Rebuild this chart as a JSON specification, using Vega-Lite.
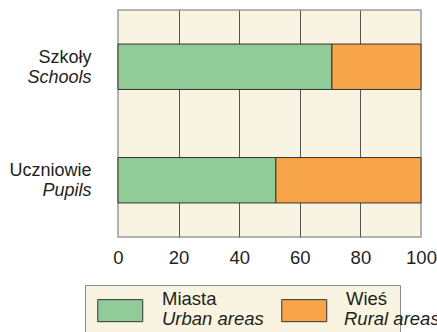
{
  "$schema": "https://vega.github.io/schema/vega-lite/v6.json",
  "autosize": {"type": "none"},
  "width": 303,
  "height": 227,
  "padding": {"left": 118, "top": 10, "right": 16, "bottom": 95},
  "background": "#ffffff",
  "config": {
    "font": "Liberation Sans",
    "view": {"fill": "#F8F4E1", "stroke": "#9a9a9a", "strokeWidth": 1.5},
    "axis": {"labelColor": "#231F20", "labelFont": "Liberation Sans"},
    "legend": {"labelColor": "#231F20", "labelFont": "Liberation Sans"}
  },
  "data": {
    "values": [
      {"cat": "Szkoły", "area": "Miasta", "area_en": "Urban areas", "value": 70.6},
      {"cat": "Szkoły", "area": "Wieś", "area_en": "Rural areas", "value": 29.4},
      {"cat": "Uczniowie", "area": "Miasta", "area_en": "Urban areas", "value": 52.1},
      {"cat": "Uczniowie", "area": "Wieś", "area_en": "Rural areas", "value": 47.9}
    ]
  },
  "resolve": {"axis": {"y": "independent"}},
  "layer": [
    {
      "mark": {"type": "bar", "strokeWidth": 1},
      "encoding": {
        "y": {
          "field": "cat",
          "type": "nominal",
          "scale": {"domain": ["Szkoły", "Uczniowie"], "paddingInner": 0.6, "paddingOuter": 0.3},
          "axis": {
            "orient": "left",
            "title": null,
            "domain": false,
            "ticks": false,
            "tickSize": 0,
            "labelPadding": 27,
            "labelFontSize": 18,
            "labelOffset": -9,
            "labelAlign": "right"
          }
        },
        "x": {
          "field": "value",
          "type": "quantitative",
          "stack": "zero",
          "scale": {"domain": [0, 100], "nice": false},
          "axis": {
            "title": null,
            "values": [0, 20, 40, 60, 80, 100],
            "domain": false,
            "ticks": false,
            "tickSize": 0,
            "labelPadding": 11,
            "labelFontSize": 18.5,
            "labelFlush": false,
            "grid": true,
            "gridColor": {"condition": {"test": "datum.value === 0 || datum.value === 100", "value": "transparent"}, "value": "#555555"},
            "gridWidth": 1,
            "gridOpacity": 1
          }
        },
        "fill": {
          "field": "area",
          "type": "nominal",
          "scale": {"domain": ["Miasta", "Wieś"], "range": ["#90CB98", "#F8A54A"]},
          "legend": {
            "orient": "none",
            "legendX": -33,
            "legendY": 275,
            "direction": "horizontal",
            "columns": 2,
            "title": null,
            "symbolType": "M-1,-0.86H3V1.1H-1Z",
            "symbolSize": 506,
            "symbolStrokeColor": "#333333",
            "symbolStrokeWidth": 1,
            "symbolOpacity": 1,
            "labelFontSize": 18.5,
            "labelBaseline": "bottom",
            "labelOffset": 41,
            "columnPadding": 62,
            "padding": 12,
            "fillColor": "#F8F4E1",
            "strokeColor": "#8a8a8a"
          }
        },
        "stroke": {
          "field": "area_en",
          "type": "nominal",
          "scale": {"domain": ["Urban areas", "Rural areas"], "range": ["#333333", "#333333"]},
          "legend": {
            "orient": "none",
            "legendX": -33,
            "legendY": 276,
            "direction": "horizontal",
            "columns": 2,
            "title": null,
            "symbolType": "M-1,-0.86H3V1.1H-1Z",
            "symbolSize": 506,
            "symbolOpacity": 0,
            "labelFontSize": 18.5,
            "labelFontStyle": "italic",
            "labelBaseline": "top",
            "labelOffset": 41,
            "columnPadding": 15,
            "padding": 12
          }
        }
      }
    },
    {
      "mark": {"type": "rule", "opacity": 0},
      "encoding": {
        "y": {
          "field": "cat",
          "type": "nominal",
          "axis": {
            "orient": "left",
            "title": null,
            "domain": false,
            "ticks": false,
            "tickSize": 0,
            "labelPadding": 27,
            "labelFontSize": 18,
            "labelFontStyle": "italic",
            "labelOffset": 11,
            "labelAlign": "right",
            "labelExpr": "datum.label == 'Szkoły' ? 'Schools' : 'Pupils'"
          }
        }
      }
    }
  ]
}
